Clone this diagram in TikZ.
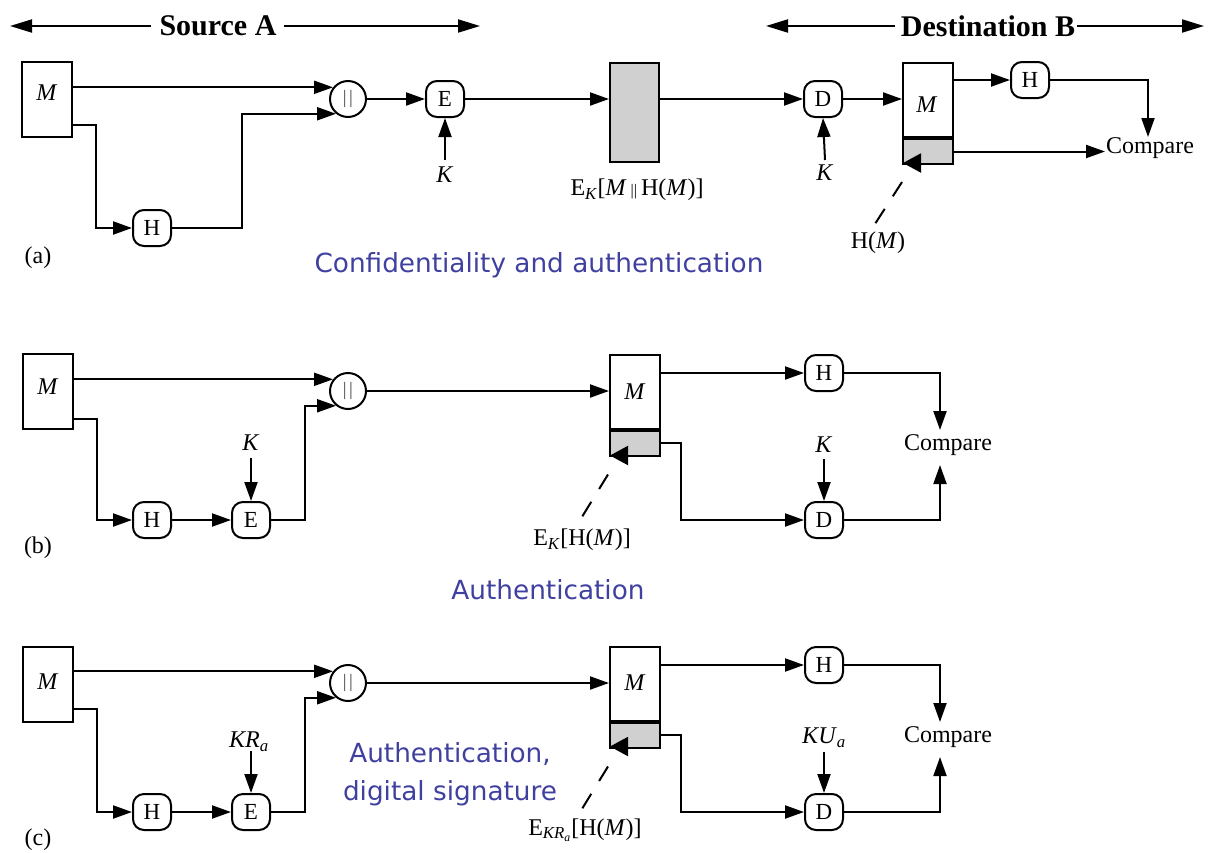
\documentclass[tikz,border=0pt]{standalone}
\usepackage{fontspec}
\setmainfont{Liberation Serif}
\newfontfamily\bluefont{DejaVu Sans}
\usetikzlibrary{arrows.meta,calc}
\definecolor{boxgray}{RGB}{208,208,208}
\definecolor{captionblue}{RGB}{64,64,160}
\newcommand{\catbars}{{\fontsize{19}{19}\selectfont\color[gray]{0.3}|\kern2.5pt|}}
\newcommand{\smallbars}{{\fontsize{16}{16}\selectfont ||}}
\begin{document}
\begin{tikzpicture}[x=1pt,y=-1pt,
  line width=2pt,
  >={Triangle[length=19pt,width=13pt]},
  lbl/.style={inner sep=0pt,font=\fontsize{24}{28}\selectfont},
  hdr/.style={inner sep=0pt,font=\fontsize{30}{34}\selectfont\bfseries},
  captxt/.style={inner sep=0pt,text=captionblue,font=\bluefont\fontsize{26.3}{38}\selectfont,align=center},
  fn/.style={draw,rounded corners=11pt,minimum width=38pt,minimum height=36pt,inner sep=0pt,font=\fontsize{23}{26}\selectfont},
  catn/.style={draw,circle,minimum size=36pt,inner sep=0pt},
  msg/.style={draw,minimum width=50pt,minimum height=75pt,inner sep=0pt},
  msgw/.style={draw,minimum width=50pt,minimum height=74pt,inner sep=0pt},
  hsh/.style={draw,fill=boxgray,minimum width=50pt,minimum height=25pt,inner sep=0pt},
  dsh/.style={dash pattern=on 17pt off 15pt},
  ptr/.style={-{Triangle[length=18pt,width=19pt]}},
  harr/.style={-{Triangle[length=22pt,width=13pt]}},
]
\useasboundingbox (0,0) rectangle (1209,852);

% ---------------- headers ----------------
\node[hdr] (srcA) at (218,26) {Source A};
\coordinate (srcAl) at (10,26);
\coordinate (srcAr) at (480,26);
\draw[harr] ($(srcA.west)+(-8,0)$) -- (srcAl);
\draw[harr] ($(srcA.east)+(7,0)$) -- (srcAr);
\node[hdr] (dstB) at (988,26) {Destination B};
\coordinate (dstBl) at (766,26);
\coordinate (dstBr) at (1204,26);
\draw[harr] ($(dstB.west)+(-5,0)$) -- (dstBl);
\draw[harr] ($(dstB.east)+(1,0)$) -- (dstBr);

% ---------------- panel (a) ----------------
\node[msg] (Ma) at (47,99.5) {};
\node[lbl] (MaL) at (47,93) {\textit{M}};
\node[catn] (Ca) at (348,99) {\catbars};
\node[fn] (Ha) at (152,228) {H};
\node[fn] (Ea) at (445,99) {E};
\node[lbl] (Ka) at (445,175) {\textit{K}};
\node[draw,fill=boxgray,minimum width=49pt,minimum height=99pt,inner sep=0pt] (Ga) at (634.5,112.5) {};
\node[lbl] (GaL) at (637,190) {E\textsubscript{\textit{K}}[\textit{M}\,\smallbars\,H(\textit{M})]};
\node[fn] (Da) at (823,99) {D};
\node[lbl] (Kda) at (825,173) {\textit{K}};
\node[msgw] (MWa) at (928,100) {};
\node[lbl] (MWaL) at (927,105) {\textit{M}};
\node[hsh,anchor=north] (MGa) at (MWa.south) {};
\node[fn] (H2a) at (1030,80) {H};
\node[lbl] (CMPa) at (1150,148) {Compare};
\node[lbl] (HMa) at (878,243) {H(\textit{M})};
\node[lbl] (la) at (38,258) {(a)};
\node[captxt] (capa) at (539,265) {Confidentiality and authentication};

\draw[->] (Ca.142 -| Ma.east) -- (Ca.142);
\draw[->] ($(Ma.south east)+(0,-13)$) -| ($(Ha.west)+(-36,0)$) -- (Ha.west);
\draw[->] (Ha.east) -| ($(Ca.231)+(-94,0)$) -- (Ca.231);
\draw[->] (Ca.east) -- (Ea.west);
\draw[->] ($(Ka.center)+(0,-15)$) -- (Ea.south);
\draw[->] (Ea.east) -- (Ga.west |- Ea.east);
\draw[->] (Ga.east |- Da.west) -- (Da.west);
\draw[->] ($(Kda.center)+(0,-13)$) -- (Da.south);
\draw[->] (Da.east) -- (MWa.west |- Da.east);
\draw[->] (MWa.east |- H2a.west) -- (H2a.west);
\draw[->] (H2a.east) -| ($(CMPa.center)+(-2,-11)$);
\draw[->] (MGa.east) -- (MGa.east -| CMPa.west);
\draw[dsh] ($(MGa.south west)+(0,17)$) -- ($(MGa.south west)+(-29,62)$);
\draw[ptr] ($(MGa.south west)+(18,-2)$) -- ($(MGa.south west)+(1,-2)$);

% ---------------- panel (b) ----------------
\node[msg] (Mb) at (48,391.5) {};
\node[lbl] (MbL) at (48,387) {\textit{M}};
\node[catn] (Cb) at (348,391) {\catbars};
\node[fn] (Hb) at (152,520) {H};
\node[fn] (Eb) at (251,520) {E};
\node[lbl] (Kb) at (251,443) {\textit{K}};
\node[lbl] (lb) at (38,548) {(b)};
\node[msgw] (MWb) at (635,391.5) {};
\node[lbl] (MWbL) at (635,392) {\textit{M}};
\node[hsh,anchor=north] (MGb) at (MWb.south) {};
\node[fn] (H2b) at (824,373) {H};
\node[fn] (D2b) at (824,520) {D};
\node[lbl] (Kdb) at (824,445) {\textit{K}};
\node[lbl] (CMPb) at (948,445) {Compare};
\node[lbl] (EHb) at (582,540) {E\textsubscript{\textit{K}}[H(\textit{M})]};
\node[captxt] (capb) at (548,590) {Authentication};

\draw[->] (Cb.142 -| Mb.east) -- (Cb.142);
\draw[->] ($(Mb.south east)+(0,-11)$) -| ($(Hb.west)+(-35,0)$) -- (Hb.west);
\draw[->] (Hb.east) -- (Eb.west);
\draw[->] ($(Kb.center)+(0,15)$) -- (Eb.north);
\draw[->] (Eb.east) -| ($(Cb.231)+(-31,0)$) -- (Cb.231);
\draw[->] (Cb.east) -- (MWb.west |- Cb.east);
\draw[->] (MWb.east |- H2b.west) -- (H2b.west);
\draw[->] (H2b.east) -| ($(CMPb.center)+(-8,-15)$);
\draw[->] (MGb.east) -| ($(D2b.west)+(-123,0)$) -- (D2b.west);
\draw[->] ($(Kdb.center)+(0,14)$) -- (D2b.north);
\draw[->] (D2b.east) -| ($(CMPb.center)+(-8,20)$);
\draw[dsh] ($(MGb.south west)+(-1,18)$) -- ($(MGb.south west)+(-28,62)$);
\draw[ptr] ($(MGb.south west)+(18,-1)$) -- ($(MGb.south west)+(1,-1)$);

% ---------------- panel (c) ----------------
\node[msg] (Mc) at (48,684.5) {};
\node[lbl] (McL) at (48,682) {\textit{M}};
\node[catn] (Cc) at (348,683) {\catbars};
\node[fn] (Hc) at (152,812) {H};
\node[fn] (Ec) at (251,812) {E};
\node[lbl] (Kc) at (249,742) {\textit{KR}\textsubscript{\textit{a}}};
\node[lbl] (lc) at (38,840) {(c)};
\node[msgw] (MWc) at (635,683.5) {};
\node[lbl] (MWcL) at (635,683) {\textit{M}};
\node[hsh,anchor=north] (MGc) at (MWc.south) {};
\node[fn] (H2c) at (824,665) {H};
\node[fn] (D2c) at (824,812) {D};
\node[lbl] (Kdc) at (824,738) {\textit{KU}\textsubscript{\textit{a}}};
\node[lbl] (CMPc) at (948,737) {Compare};
\node[lbl] (EHc) at (585,830) {E\textsubscript{\textit{KR}\textsubscript{\textit{a}}}[H(\textit{M})]};
\node[captxt] (capc) at (450,774) {Authentication,\\digital signature};

\draw[->] (Cc.142 -| Mc.east) -- (Cc.142);
\draw[->] ($(Mc.south east)+(0,-14)$) -| ($(Hc.west)+(-35,0)$) -- (Hc.west);
\draw[->] (Hc.east) -- (Ec.west);
\draw[->] ($(Ec.north)+(0,-42)$) -- (Ec.north);
\draw[->] (Ec.east) -| ($(Cc.231)+(-31,0)$) -- (Cc.231);
\draw[->] (Cc.east) -- (MWc.west |- Cc.east);
\draw[->] (MWc.east |- H2c.west) -- (H2c.west);
\draw[->] (H2c.east) -| ($(CMPc.center)+(-8,-15)$);
\draw[->] (MGc.east) -| ($(D2c.west)+(-123,0)$) -- (D2c.west);
\draw[->] ($(Kdc.center)+(0,14)$) -- (D2c.north);
\draw[->] (D2c.east) -| ($(CMPc.center)+(-8,20)$);
\draw[dsh] ($(MGc.south west)+(-1,18)$) -- ($(MGc.south west)+(-28,62)$);
\draw[ptr] ($(MGc.south west)+(18,-2)$) -- ($(MGc.south west)+(1,-2)$);
\end{tikzpicture}
\end{document}
